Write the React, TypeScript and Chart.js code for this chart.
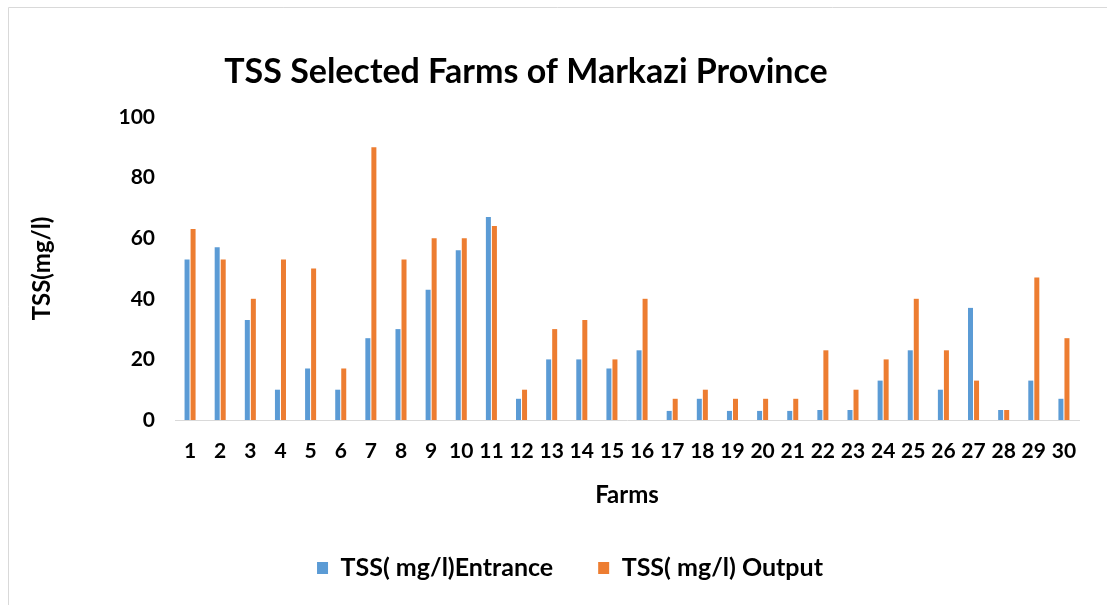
import React, { useEffect, useRef } from "react";
import { Chart, registerables } from "chart.js";

Chart.register(...registerables);

const farms = Array.from({ length: 30 }, (_, i) => String(i + 1));
const entrance = [53, 57, 33, 10, 17, 10, 27, 30, 43, 56, 67, 7, 20, 20, 17, 23, 3, 7, 3, 3, 3, 3.3, 3.3, 13, 23, 10, 37, 3.3, 13, 7];
const output = [63, 53, 40, 53, 50, 17, 90, 53, 60, 60, 64, 10, 30, 33, 20, 40, 7, 10, 7, 7, 7, 23, 10, 20, 40, 23, 13, 3.3, 47, 27];
const yTicks = [0, 20, 40, 60, 80, 100];

const FONT = "Lato, 'Open Sans', sans-serif";

const framePlugin = {
  id: "frameAndTitle",
  afterDraw(chart: any) {
    const ctx = chart.ctx;
    ctx.save();
    ctx.strokeStyle = "#d9d9d9";
    ctx.lineWidth = 1;
    ctx.beginPath();
    ctx.moveTo(8.5, 605);
    ctx.lineTo(8.5, 7.5);
    ctx.lineTo(1107, 7.5);
    ctx.stroke();
    ctx.fillStyle = "#000";
    ctx.font = `bold 34px ${FONT}`;
    ctx.textAlign = "center";
    ctx.textBaseline = "middle";
    ctx.fillText("TSS Selected Farms of Markazi Province", 526, 72);
    ctx.restore();
  },
};

export default function App() {
  const ref = useRef<HTMLCanvasElement>(null);
  useEffect(() => {
    document.body.style.margin = "0";
    const chart = new Chart(ref.current!, {
      type: "bar",
      data: {
        labels: farms,
        datasets: [
          {
            label: "TSS( mg/l)Entrance",
            data: entrance,
            backgroundColor: "#5B9BD5",
            barPercentage: 0.83,
            categoryPercentage: 0.4,
          },
          {
            label: "TSS( mg/l) Output",
            data: output,
            backgroundColor: "#ED7D31",
            barPercentage: 0.83,
            categoryPercentage: 0.4,
          },
        ],
      },
      options: {
        animation: false,
        responsive: false,
        layout: { padding: { top: 117, left: 61, right: 28, bottom: 14.5 } },
        plugins: {
          title: { display: false },
          tooltip: { enabled: false },
          legend: {
            position: "bottom",
            labels: {
              color: "#000",
              font: { family: FONT, size: 25, weight: "bold" },
              boxWidth: 11,
              boxHeight: 12,
              padding: 45,
            },
          },
        },
        scales: {
          x: {
            grid: { display: false, drawTicks: false },
            border: { display: true, color: "#d9d9d9", width: 1 },
            ticks: {
              color: "#000",
              font: { family: FONT, size: 21, weight: "bold" },
              padding: 19,
              maxRotation: 0,
              autoSkip: false,
            },
            title: {
              display: true,
              text: "Farms",
              color: "#000",
              font: { family: FONT, size: 24, weight: "bold" },
              padding: { top: 0, bottom: 1 },
            },
            afterFit(scale: any) {
              scale.height = 90.5;
            },
          },
          y: {
            min: 0,
            max: 100,
            afterBuildTicks(scale: any) {
              scale.ticks = yTicks.map((v) => ({ value: v }));
            },
            grid: { display: false, drawTicks: false },
            border: { display: false },
            ticks: {
              color: "#000",
              font: { family: FONT, size: 21, weight: "bold" },
              padding: 20,
            },
            title: {
              display: true,
              text: "TSS(mg/l)",
              color: "#000",
              font: { family: FONT, size: 24, weight: "bold" },
              padding: { top: -33.4, bottom: 0 },
            },
            afterFit(scale: any) {
              scale.width = 114;
            },
          },
        },
      },
      plugins: [framePlugin],
    });
    return () => chart.destroy();
  }, []);
  return <canvas ref={ref} width={1107} height={605} style={{ display: "block" }} />;
}
